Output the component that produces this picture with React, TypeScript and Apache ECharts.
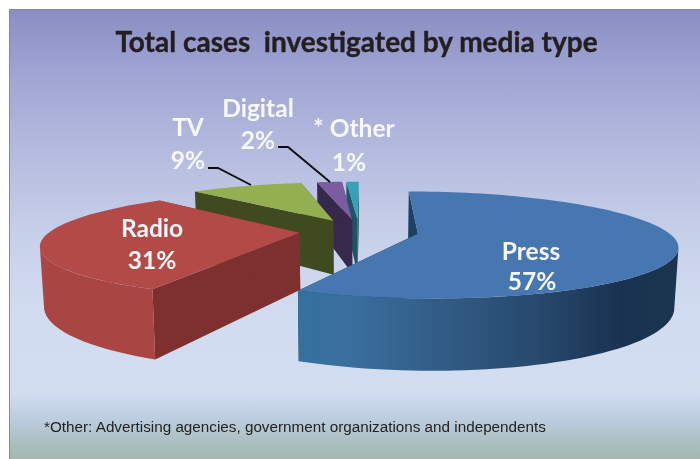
import React, { useEffect, useRef } from "react";
import * as echarts from "echarts";

const TITLE = "Total cases  investigated by media type";
const FOOTNOTE = "*Other: Advertising agencies, government organizations and independents";
const categories = ["Press", "Radio", "TV", "Digital", "Other"];
const shares = [57, 31, 9, 2, 1];

// Painter's order: the slices at the back first, the large front slices last.
const paintOrder = [4, 3, 2, 1, 0];

const topColors = ["#4677b0", "#b24b47", "#94af4f", "#7b5c9e", "#37a0b8"];
const wallColors = ["#1b4263", "#7e302f", "#3f4a20", "#37294b", "#1e5566"];

// View of the tilted pie
const VIEW = {
  cx: 359,
  cy: 231,
  rx: 249,
  ry: 50,
  perspective: 0.2075,
  depth: 56.5,
  explode: 0.24,
  startDeg: 0.3,
  baseShrink: 0.013,
};

function project(wx: number, wy: number, lift: number): number[] {
  const s = 1 / (1 - VIEW.perspective * wy);
  const shrink = 1 - VIEW.baseShrink * lift;
  return [
    VIEW.cx + VIEW.rx * wx * s * shrink,
    VIEW.cy + VIEW.ry * wy * s + VIEW.depth * lift * s,
  ];
}

const rad = (d: number) => (d * Math.PI) / 180;

function sliceAngles(index: number): [number, number] {
  const total = shares.reduce((a, b) => a + b, 0);
  const before = shares.slice(0, index).reduce((a, b) => a + b, 0);
  const from = VIEW.startDeg + (before / total) * 360;
  return [from, from + (shares[index] / total) * 360];
}

function arcPoints(ox: number, oy: number, from: number, to: number, lift: number) {
  const pts: number[][] = [];
  const n = Math.max(2, Math.ceil((to - from) / 2));
  for (let k = 0; k <= n; k++) {
    const a = rad(from + ((to - from) * k) / n);
    pts.push(project(ox + Math.sin(a), oy - Math.cos(a), lift));
  }
  return pts;
}

// Angle at which the rim turns away from the viewer on one side of the pie
function silhouetteAngle(ox: number, oy: number, lo: number, hi: number, sign: number) {
  let best = lo;
  let bestX = -Infinity;
  for (let d = lo; d <= hi; d += 0.5) {
    const a = rad(d);
    const x = sign * project(ox + Math.sin(a), oy - Math.cos(a), 0)[0];
    if (x > bestX) {
      bestX = x;
      best = d;
    }
  }
  return best;
}

function rimFill(index: number): any {
  if (index === 0) {
    return {
      type: "linear", x: 301, y: 0, x2: 678, y2: 0, global: true,
      colorStops: [
        { offset: 0, color: "#35709f" },
        { offset: 0.12, color: "#3a6f9f" },
        { offset: 0.35, color: "#335d88" },
        { offset: 0.62, color: "#274a6e" },
        { offset: 0.85, color: "#1a3250" },
        { offset: 1, color: "#1b3550" },
      ],
    };
  }
  return index === 1 ? "#a94542" : wallColors[index];
}

function renderSlice(params: any) {
  const i = paintOrder[params.dataIndex];
  const [from, to] = sliceAngles(i);
  const mid = rad((from + to) / 2);
  const ox = VIEW.explode * Math.sin(mid);
  const oy = -VIEW.explode * Math.cos(mid);
  const children: any[] = [];

  const wall = (deg: number) => {
    const a = rad(deg);
    const rimX = ox + Math.sin(a);
    const rimY = oy - Math.cos(a);
    children.push({
      type: "polygon",
      shape: { points: [project(ox, oy, 0), project(rimX, rimY, 0), project(rimX, rimY, 1), project(ox, oy, 1)] },
      style: { fill: wallColors[i] },
    });
  };
  wall(from);
  wall(to);

  // Only the part of the outer rim that faces the viewer
  const rimFrom = Math.max(from, silhouetteAngle(ox, oy, 60, 130, 1));
  const rimTo = Math.min(to, silhouetteAngle(ox, oy, 230, 300, -1));
  if (rimTo > rimFrom) {
    children.push({
      type: "polygon",
      shape: {
        points: [
          ...arcPoints(ox, oy, rimFrom, rimTo, 0),
          ...arcPoints(ox, oy, rimFrom, rimTo, 1).reverse(),
        ],
      },
      style: { fill: rimFill(i) },
    });
  }

  children.push({
    type: "polygon",
    shape: { points: [project(ox, oy, 0), ...arcPoints(ox, oy, from, to, 0)] },
    style: { fill: topColors[i] },
  });
  return { type: "group", children };
}

const whiteLabel = (text: string, x: number, y: number, size = 24.5) => ({
  type: "text",
  z: 20,
  x,
  y,
  silent: true,
  style: {
    text,
    fill: "#f6f8fc",
    font: `bold ${size}px Lato`,
    align: "center",
    verticalAlign: "middle",
  },
});

const leader = (points: number[][]) => ({
  type: "polyline",
  z: 19,
  silent: true,
  shape: { points },
  style: { stroke: "#0c0c0c", lineWidth: 1.8, fill: "none" },
});

export default function App() {
  const ref = useRef<HTMLDivElement>(null);

  useEffect(() => {
    document.body.style.margin = "0";
    const chart = echarts.init(ref.current!, undefined, { renderer: "svg" });
    chart.setOption({
      animation: false,
      graphic: [
        {
          type: "rect",
          z: -10,
          silent: true,
          shape: { x: 9.5, y: 9.5, width: 700, height: 460 },
          style: {
            stroke: "#86869a",
            lineWidth: 1,
            fill: {
              type: "linear", x: 0, y: 0, x2: 0, y2: 1,
              colorStops: [
                { offset: 0, color: "#8a8ec3" },
                { offset: 0.13, color: "#9ea3d2" },
                { offset: 0.3, color: "#b4bade" },
                { offset: 0.5, color: "#c8d1ea" },
                { offset: 0.66, color: "#d2dcf0" },
                { offset: 0.83, color: "#d3ddf0" },
                { offset: 0.89, color: "#bccde0" },
                { offset: 0.95, color: "#a9bdbb" },
                { offset: 1, color: "#a0b4a6" },
              ],
            },
          },
        },
        {
          type: "text",
          z: 20,
          x: 356.5,
          y: 41,
          silent: true,
          style: {
            text: TITLE,
            fill: "#231f20",
            stroke: "#231f20",
            lineWidth: 0.4,
            font: "bold 28px Lato",
            align: "center",
            verticalAlign: "middle",
          },
        },
        {
          type: "text",
          z: 20,
          x: 44,
          y: 426,
          silent: true,
          style: {
            text: FOOTNOTE,
            fill: "#222222",
            font: "15.25px 'Liberation Sans'",
            align: "left",
            verticalAlign: "middle",
          },
        },
        whiteLabel(categories[0], 531, 250),
        whiteLabel(`${shares[0]}%`, 532, 280),
        whiteLabel(categories[1], 152, 227),
        whiteLabel(`${shares[1]}%`, 152, 259),
        whiteLabel(categories[2], 188, 126),
        whiteLabel(`${shares[2]}%`, 188, 159),
        whiteLabel(categories[3], 258, 107),
        whiteLabel(`${shares[3]}%`, 258, 139),
        whiteLabel(`* ${categories[4]}`, 354, 127),
        whiteLabel(`${shares[4]}%`, 349, 161),
        leader([[208, 168], [218, 168], [251, 185]]),
        leader([[278, 147], [288, 147], [330, 182]]),
      ],
      series: [
        {
          type: "custom",
          coordinateSystem: "none",
          silent: true,
          renderItem: renderSlice,
          data: paintOrder.map((i) => ({ name: categories[i], value: shares[i] })),
        },
      ],
    });
    return () => chart.dispose();
  }, []);

  return <div ref={ref} style={{ position: "fixed", left: 0, top: 0, width: 700, height: 459 }} />;
}
